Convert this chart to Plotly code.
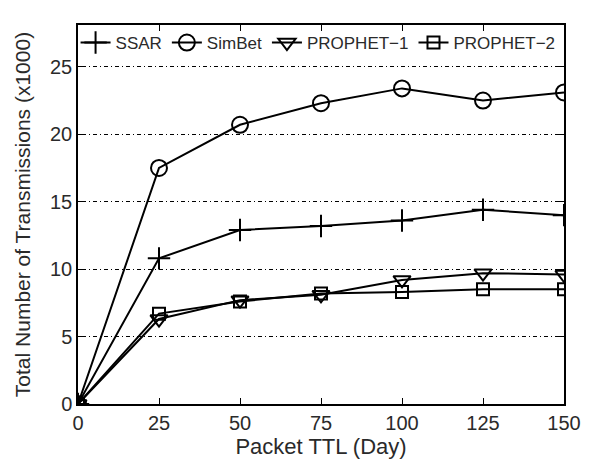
import plotly.graph_objects as go

ttl = [0, 25, 50, 75, 100, 125, 150]
ssar = [0, 10.8, 12.9, 13.2, 13.6, 14.4, 14.0]
simbet = [0, 17.5, 20.7, 22.3, 23.4, 22.5, 23.1]
prophet1 = [0, 6.3, 7.7, 8.1, 9.2, 9.7, 9.6]
prophet2 = [0, 6.7, 7.6, 8.2, 8.3, 8.5, 8.5]

series = [
    ("SSAR", ssar, "cross-thin", 16),
    ("SimBet", simbet, "circle-open", 16),
    ("PROPHET\u22121", prophet1, "triangle-down-open", 15),
    ("PROPHET\u22122", prophet2, "square-open", 12),
]

fig = go.Figure()
for name, vals, sym, size in series:
    fig.add_trace(go.Scatter(
        x=ttl, y=vals, name=name, mode="lines+markers",
        line=dict(color="black", width=2),
        marker=dict(symbol=sym, size=size, color="black",
                    line=dict(color="black", width=2)),
    ))

tc = "#2a2a2a"
font = dict(family="Liberation Sans, Arial, sans-serif", color=tc)
fig.update_layout(
    width=593, height=461,
    margin=dict(l=78, r=27, t=25, b=54),
    paper_bgcolor="white", plot_bgcolor="white",
    font=font,
    showlegend=True,
    legend=dict(orientation="h", x=-0.005, y=1.0001, xanchor="left", yanchor="top",
                bgcolor="rgba(0,0,0,0)", font=dict(size=17, color=tc),
                itemwidth=30, tracegroupgap=0),
    xaxis=dict(range=[0, 150], tickvals=ttl, ticks="inside", ticklen=6,
               tickcolor="black", showline=True, linecolor="black", linewidth=1.5,
               mirror="ticks", showgrid=False, zeroline=False,
               tickfont=dict(size=20, color=tc),
               title=dict(text="Packet TTL (Day)", font=dict(size=22, color=tc), standoff=0)),
    yaxis=dict(range=[0, 28.1], tickvals=[0, 5, 10, 15, 20, 25], ticks="inside", ticklen=6,
               tickcolor="black", showline=True, linecolor="black", linewidth=1.5,
               mirror="ticks", showgrid=True, gridcolor="black", gridwidth=1,
               griddash="1px,3px,4px,3px", zeroline=False,
               tickfont=dict(size=20, color=tc),
               title=dict(text="Total Number of Transmissions (x1000)", font=dict(size=21, color=tc), standoff=14)),
)
fig.write_html("out.html")
